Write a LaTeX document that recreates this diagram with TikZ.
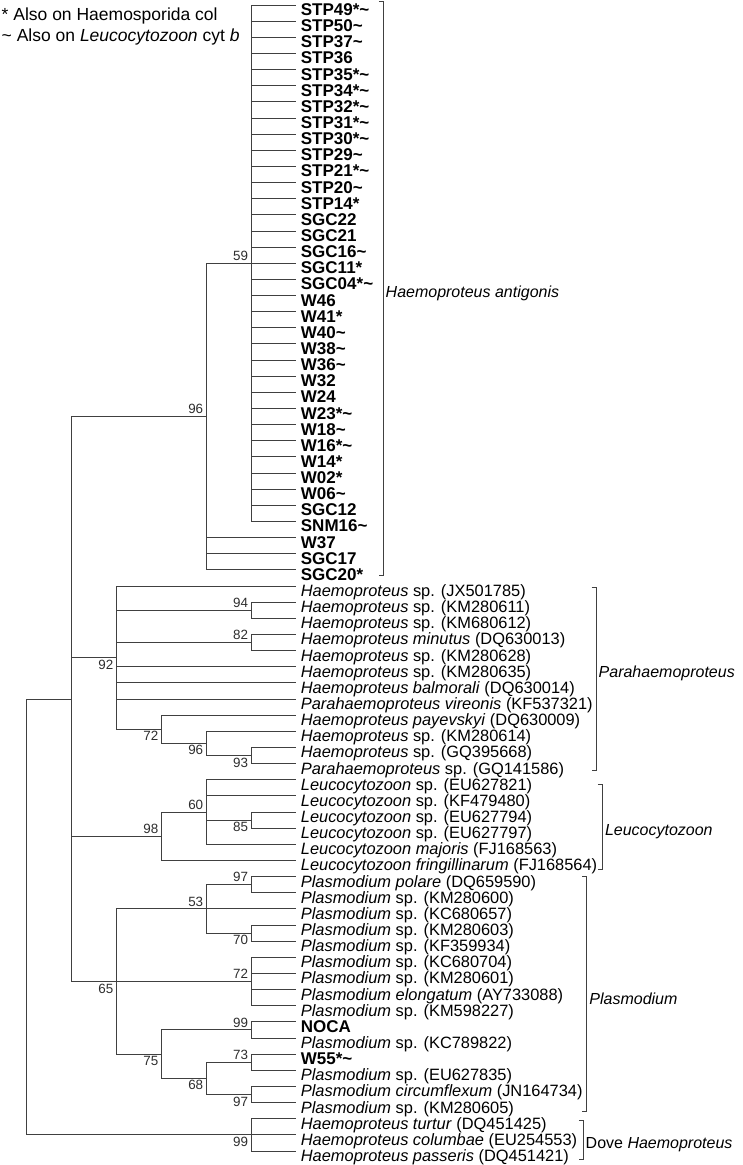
\documentclass[tikz,border=0pt]{standalone}
\usepackage{fontspec}
\setmainfont{Liberation Sans}
\definecolor{branch}{RGB}{64,64,64}
\definecolor{support}{RGB}{45,45,45}
\newcommand{\tld}{\textasciitilde}

\begin{document}
\begin{tikzpicture}[x=1pt,y=-16.14pt,edge/.style={draw=branch,line width=0.9pt},leaf/.style={anchor=west,inner xsep=4.5pt,inner ysep=0pt,text height=21pt,text depth=0pt,text=black,font=\fontsize{16.4pt}{18pt}\selectfont},iso/.style={leaf,font=\fontsize{17pt}{18pt}\selectfont\bfseries},ref/.style={leaf},bsa/.style={anchor=south east,inner sep=0pt,xshift=-3pt,yshift=2.5pt,text=support,font=\fontsize{13.4pt}{15pt}\selectfont},bsb/.style={bsa,anchor=north east,yshift=-4.5pt},brk/.style={draw=branch,line width=0.9pt},grp/.style={anchor=base west,inner sep=0pt,text=black,font=\fontsize{16pt}{18pt}\selectfont},key/.style={anchor=base west,inner sep=0pt,text=black,font=\fontsize{17.5pt}{19pt}\selectfont}]
\useasboundingbox (0,-0.3098) rectangle (742,71.871);
% key
\node[key] (key1) at (1.5,0.93) {* Also on Haemosporida col};
\node[key] (key2) at (1.5,2.27) {\tld{} Also on \textit{Leucocytozoon} cyt \textit{b}};
% taxa
\node[iso] (n0) at (296.2,0) {STP49*\tld};
\node[iso] (n1) at (296.2,1) {STP50\tld};
\node[iso] (n2) at (296.2,2) {STP37\tld};
\node[iso] (n3) at (296.2,3) {STP36};
\node[iso] (n4) at (296.2,4) {STP35*\tld};
\node[iso] (n5) at (296.2,5) {STP34*\tld};
\node[iso] (n6) at (296.2,6) {STP32*\tld};
\node[iso] (n7) at (296.2,7) {STP31*\tld};
\node[iso] (n8) at (296.2,8) {STP30*\tld};
\node[iso] (n9) at (296.2,9) {STP29\tld};
\node[iso] (n10) at (296.2,10) {STP21*\tld};
\node[iso] (n11) at (296.2,11) {STP20\tld};
\node[iso] (n12) at (296.2,12) {STP14*};
\node[iso] (n13) at (296.2,13) {SGC22};
\node[iso] (n14) at (296.2,14) {SGC21};
\node[iso] (n15) at (296.2,15) {SGC16\tld};
\node[iso] (n16) at (296.2,16) {SGC11*};
\node[iso] (n17) at (296.2,17) {SGC04*\tld};
\node[iso] (n18) at (296.2,18) {W46};
\node[iso] (n19) at (296.2,19) {W41*};
\node[iso] (n20) at (296.2,20) {W40\tld};
\node[iso] (n21) at (296.2,21) {W38\tld};
\node[iso] (n22) at (296.2,22) {W36\tld};
\node[iso] (n23) at (296.2,23) {W32};
\node[iso] (n24) at (296.2,24) {W24};
\node[iso] (n25) at (296.2,25) {W23*\tld};
\node[iso] (n26) at (296.2,26) {W18\tld};
\node[iso] (n27) at (296.2,27) {W16*\tld};
\node[iso] (n28) at (296.2,28) {W14*};
\node[iso] (n29) at (296.2,29) {W02*};
\node[iso] (n30) at (296.2,30) {W06\tld};
\node[iso] (n31) at (296.2,31) {SGC12};
\node[iso] (n32) at (296.2,32) {SNM16\tld};
\node[iso] (n33) at (296.2,33) {W37};
\node[iso] (n34) at (296.2,34) {SGC17};
\node[iso] (n35) at (296.2,35) {SGC20*};
\node[ref] (n36) at (296.2,36) {\textit{Haemoproteus} sp. (JX501785)};
\node[ref] (n37) at (296.2,37) {\textit{Haemoproteus} sp. (KM280611)};
\node[ref] (n38) at (296.2,38) {\textit{Haemoproteus} sp. (KM680612)};
\node[ref] (n39) at (296.2,39) {\textit{Haemoproteus minutus} (DQ630013)};
\node[ref] (n40) at (296.2,40) {\textit{Haemoproteus} sp. (KM280628)};
\node[ref] (n41) at (296.2,41) {\textit{Haemoproteus} sp. (KM280635)};
\node[ref] (n42) at (296.2,42) {\textit{Haemoproteus balmorali} (DQ630014)};
\node[ref] (n43) at (296.2,43) {\textit{Parahaemoproteus vireonis} (KF537321)};
\node[ref] (n44) at (296.2,44) {\textit{Haemoproteus payevskyi} (DQ630009)};
\node[ref] (n45) at (296.2,45) {\textit{Haemoproteus} sp. (KM280614)};
\node[ref] (n46) at (296.2,46) {\textit{Haemoproteus} sp. (GQ395668)};
\node[ref] (n47) at (296.2,47) {\textit{Parahaemoproteus} sp. (GQ141586)};
\node[ref] (n48) at (296.2,48) {\textit{Leucocytozoon} sp. (EU627821)};
\node[ref] (n49) at (296.2,49) {\textit{Leucocytozoon} sp. (KF479480)};
\node[ref] (n50) at (296.2,50) {\textit{Leucocytozoon} sp. (EU627794)};
\node[ref] (n51) at (296.2,51) {\textit{Leucocytozoon} sp. (EU627797)};
\node[ref] (n52) at (296.2,52) {\textit{Leucocytozoon majoris} (FJ168563)};
\node[ref] (n53) at (296.2,53) {\textit{Leucocytozoon fringillinarum} (FJ168564)};
\node[ref] (n54) at (296.2,54) {\textit{Plasmodium polare} (DQ659590)};
\node[ref] (n55) at (296.2,55) {\textit{Plasmodium} sp. (KM280600)};
\node[ref] (n56) at (296.2,56) {\textit{Plasmodium} sp. (KC680657)};
\node[ref] (n57) at (296.2,57) {\textit{Plasmodium} sp. (KM280603)};
\node[ref] (n58) at (296.2,58) {\textit{Plasmodium} sp. (KF359934)};
\node[ref] (n59) at (296.2,59) {\textit{Plasmodium} sp. (KC680704)};
\node[ref] (n60) at (296.2,60) {\textit{Plasmodium} sp. (KM280601)};
\node[ref] (n61) at (296.2,61) {\textit{Plasmodium elongatum} (AY733088)};
\node[ref] (n62) at (296.2,62) {\textit{Plasmodium} sp. (KM598227)};
\node[iso] (n63) at (296.2,63) {NOCA};
\node[ref] (n64) at (296.2,64) {\textit{Plasmodium} sp. (KC789822)};
\node[iso] (n65) at (296.2,65) {W55*\tld};
\node[ref] (n66) at (296.2,66) {\textit{Plasmodium} sp. (EU627835)};
\node[ref] (n67) at (296.2,67) {\textit{Plasmodium circumflexum} (JN164734)};
\node[ref] (n68) at (296.2,68) {\textit{Plasmodium} sp. (KM280605)};
\node[ref] (n69) at (296.2,69) {\textit{Haemoproteus turtur} (DQ451425)};
\node[ref] (n70) at (296.2,70) {\textit{Haemoproteus columbae} (EU254553)};
\node[ref] (n71) at (296.2,71) {\textit{Haemoproteus passeris} (DQ451421)};
% internal nodes
\coordinate (root) at (26.8,56.5);
\coordinate (core) at (71.7,43);
\coordinate (a96) at (206.4,25.5);
\coordinate (a59) at (251.3,16);
\coordinate (p92) at (116.6,40.4375);
\coordinate (p94) at (251.3,37.5);
\coordinate (p82) at (251.3,39.5);
\coordinate (p72) at (161.5,44.875);
\coordinate (p96) at (206.4,45.75);
\coordinate (p93) at (251.3,46.5);
\coordinate (u98) at (161.5,51.5);
\coordinate (u60) at (206.4,50);
\coordinate (u85) at (251.3,50.5);
\coordinate (m65) at (116.6,60.5);
\coordinate (m53) at (206.4,56);
\coordinate (m97) at (251.3,54.5);
\coordinate (m70) at (251.3,57.5);
\coordinate (m72) at (251.3,60.5);
\coordinate (m75) at (161.5,65);
\coordinate (m99) at (251.3,63.5);
\coordinate (m68) at (206.4,66.5);
\coordinate (m73) at (251.3,65.5);
\coordinate (m97b) at (251.3,67.5);
\coordinate (d99) at (251.3,70);
% branches
\draw[edge] (root) |- (core);
\draw[edge] (root) |- (d99);
\draw[edge] (core) |- (a96);
\draw[edge] (core) |- (p92);
\draw[edge] (core) |- (u98);
\draw[edge] (core) |- (m65);
\draw[edge] (a96) |- (a59);
\draw[edge] (a96) |- (n33.west);
\draw[edge] (a96) |- (n34.west);
\draw[edge] (a96) |- (n35.west);
\draw[edge] (a59) |- (n0.west);
\draw[edge] (a59) |- (n1.west);
\draw[edge] (a59) |- (n2.west);
\draw[edge] (a59) |- (n3.west);
\draw[edge] (a59) |- (n4.west);
\draw[edge] (a59) |- (n5.west);
\draw[edge] (a59) |- (n6.west);
\draw[edge] (a59) |- (n7.west);
\draw[edge] (a59) |- (n8.west);
\draw[edge] (a59) |- (n9.west);
\draw[edge] (a59) |- (n10.west);
\draw[edge] (a59) |- (n11.west);
\draw[edge] (a59) |- (n12.west);
\draw[edge] (a59) |- (n13.west);
\draw[edge] (a59) |- (n14.west);
\draw[edge] (a59) |- (n15.west);
\draw[edge] (a59) |- (n16.west);
\draw[edge] (a59) |- (n17.west);
\draw[edge] (a59) |- (n18.west);
\draw[edge] (a59) |- (n19.west);
\draw[edge] (a59) |- (n20.west);
\draw[edge] (a59) |- (n21.west);
\draw[edge] (a59) |- (n22.west);
\draw[edge] (a59) |- (n23.west);
\draw[edge] (a59) |- (n24.west);
\draw[edge] (a59) |- (n25.west);
\draw[edge] (a59) |- (n26.west);
\draw[edge] (a59) |- (n27.west);
\draw[edge] (a59) |- (n28.west);
\draw[edge] (a59) |- (n29.west);
\draw[edge] (a59) |- (n30.west);
\draw[edge] (a59) |- (n31.west);
\draw[edge] (a59) |- (n32.west);
\draw[edge] (p92) |- (n36.west);
\draw[edge] (p92) |- (p94);
\draw[edge] (p92) |- (p82);
\draw[edge] (p92) |- (n41.west);
\draw[edge] (p92) |- (n42.west);
\draw[edge] (p92) |- (n43.west);
\draw[edge] (p92) |- (p72);
\draw[edge] (p94) |- (n37.west);
\draw[edge] (p94) |- (n38.west);
\draw[edge] (p82) |- (n39.west);
\draw[edge] (p82) |- (n40.west);
\draw[edge] (p72) |- (n44.west);
\draw[edge] (p72) |- (p96);
\draw[edge] (p96) |- (n45.west);
\draw[edge] (p96) |- (p93);
\draw[edge] (p93) |- (n46.west);
\draw[edge] (p93) |- (n47.west);
\draw[edge] (u98) |- (u60);
\draw[edge] (u98) |- (n53.west);
\draw[edge] (u60) |- (n48.west);
\draw[edge] (u60) |- (n49.west);
\draw[edge] (u60) |- (u85);
\draw[edge] (u60) |- (n52.west);
\draw[edge] (u85) |- (n50.west);
\draw[edge] (u85) |- (n51.west);
\draw[edge] (m65) |- (m53);
\draw[edge] (m65) |- (m72);
\draw[edge] (m65) |- (m75);
\draw[edge] (m53) |- (m97);
\draw[edge] (m53) |- (n56.west);
\draw[edge] (m53) |- (m70);
\draw[edge] (m97) |- (n54.west);
\draw[edge] (m97) |- (n55.west);
\draw[edge] (m70) |- (n57.west);
\draw[edge] (m70) |- (n58.west);
\draw[edge] (m72) |- (n59.west);
\draw[edge] (m72) |- (n60.west);
\draw[edge] (m72) |- (n61.west);
\draw[edge] (m72) |- (n62.west);
\draw[edge] (m75) |- (m99);
\draw[edge] (m75) |- (m68);
\draw[edge] (m99) |- (n63.west);
\draw[edge] (m99) |- (n64.west);
\draw[edge] (m68) |- (m73);
\draw[edge] (m68) |- (m97b);
\draw[edge] (m73) |- (n65.west);
\draw[edge] (m73) |- (n66.west);
\draw[edge] (m97b) |- (n67.west);
\draw[edge] (m97b) |- (n68.west);
\draw[edge] (d99) |- (n69.west);
\draw[edge] (d99) |- (n70.west);
\draw[edge] (d99) |- (n71.west);
% bootstrap support
\node[bsa] (s1) at (a59) {59};
\node[bsa] (s2) at (a96) {96};
\node[bsa] (s3) at (p94) {94};
\node[bsa] (s4) at (p82) {82};
\node[bsb] (s5) at (p92) {92};
\node[bsb] (s6) at (p72) {72};
\node[bsb] (s7) at (p96) {96};
\node[bsb] (s8) at (p93) {93};
\node[bsa] (s9) at (u60) {60};
\node[bsb] (s10) at (u85) {85};
\node[bsa] (s11) at (u98) {98};
\node[bsa] (s12) at (m97) {97};
\node[bsa] (s13) at (m53) {53};
\node[bsb] (s14) at (m70) {70};
\node[bsa] (s15) at (m72) {72};
\node[bsb] (s16) at (m65) {65};
\node[bsa] (s17) at (m99) {99};
\node[bsb] (s18) at (m75) {75};
\node[bsa] (s19) at (m73) {73};
\node[bsb] (s20) at (m68) {68};
\node[bsb] (s21) at (m97b) {97};
\node[bsb] (s22) at (d99) {99};
% clade brackets
\draw[brk] (378.8,-0.19) -- (383.3,-0.19) -- (383.3,35.32) -- (378.8,35.32);
\node[grp] (g1) at (385.5,18.11) {\textit{Haemoproteus antigonis}};
\draw[brk] (591.5,36.1) -- (596,36.1) -- (596,47.4) -- (591.5,47.4);
\node[grp] (g2) at (598.5,41.65) {\textit{Parahaemoproteus}};
\draw[brk] (597.8,48.27) -- (602.3,48.27) -- (602.3,53.53) -- (597.8,53.53);
\node[grp] (g3) at (604.8,51.43) {\textit{Leucocytozoon}};
\draw[brk] (582.2,54) -- (586.7,54) -- (586.7,68.53) -- (582.2,68.53);
\node[grp] (g4) at (589.2,61.9) {\textit{Plasmodium}};
\draw[brk] (578.8,69.12) -- (583.3,69.12) -- (583.3,71.5) -- (578.8,71.5);
\node[grp] (g5) at (585.5,70.84) {Dove \textit{Haemoproteus}};
\end{tikzpicture}
\end{document}
